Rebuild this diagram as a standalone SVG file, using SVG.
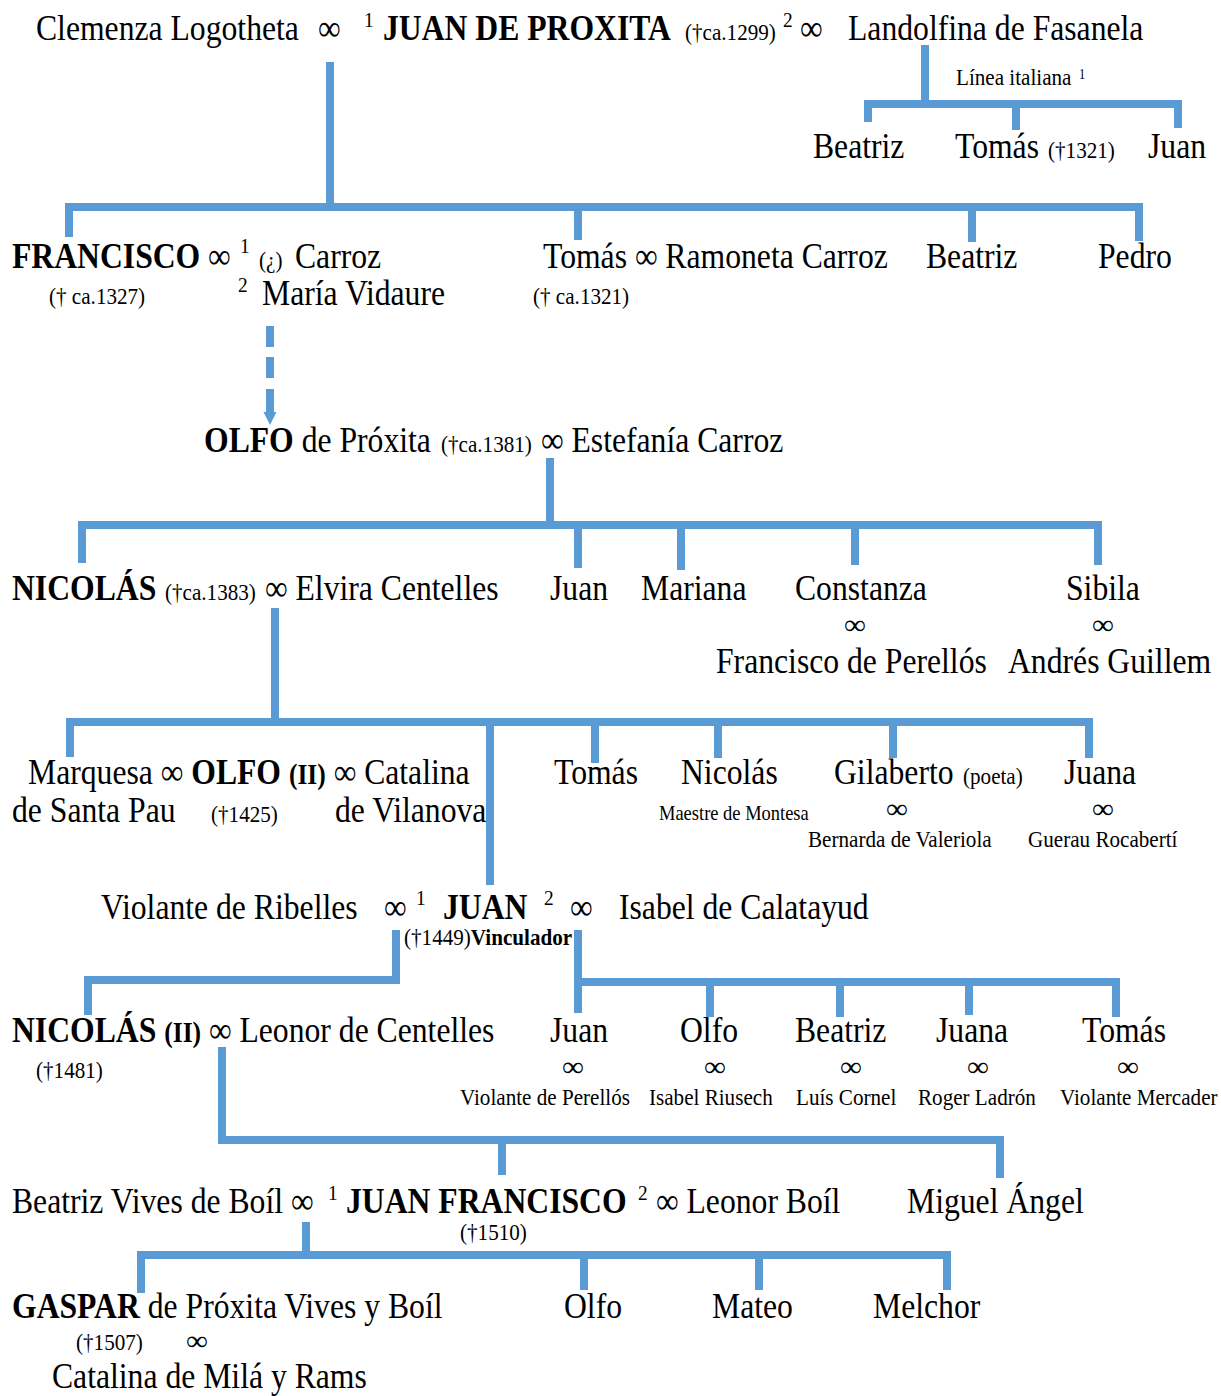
<svg xmlns="http://www.w3.org/2000/svg" width="1221" height="1396" viewBox="0 0 1221 1396">
  <style>
    text { font-family: "Liberation Serif", "Times New Roman", serif; font-size: 36px; fill: #000; }
    .b { font-weight: bold; }
    .s { font-size: 24px; }
    .m { font-size: 21px; }
    .sup { font-size: 22px; }
    .ii { font-size: 29px; font-weight: bold; }
    .inf { font-size: 28px; text-anchor: middle; }
    .link { fill: none; stroke: #5B9BD5; stroke-width: 8; stroke-linejoin: miter; stroke-linecap: butt; }
  </style>
  <defs>
    <marker id="arrow" viewBox="0 0 10 10" refX="0" refY="5" markerWidth="13" markerHeight="22" markerUnits="userSpaceOnUse" orient="auto">
      <path d="M0 0 L10 5 L0 10 z" fill="#5B9BD5"/>
    </marker>
  </defs>

  <!-- family lines -->
  <g id="connectors">
    <path class="link" d="M330 62 V207"/>
    <path class="link" d="M69 237 V207 H1139 V241"/>
    <path class="link" d="M578 207 V240 M972 207 V242"/>
    <path class="link" d="M925 45 V104"/>
    <path class="link" d="M868 122 V104 H1178 V128 M1016 104 V130"/>
    <path class="link" d="M270 326 V347 M270 357 V378"/>
    <path class="link" d="M270 389 V412" marker-end="url(#arrow)"/>
    <path class="link" d="M550 458 V525"/>
    <path class="link" d="M82 563 V525 H1098 V565 M578 525 V568 M681 525 V570 M855 525 V565"/>
    <path class="link" d="M275 608 V722"/>
    <path class="link" d="M70 757 V722 H1089 V758 M490 722 V885 M595 722 V763 M718 722 V758 M893 722 V758"/>
    <path class="link" d="M396 930 V980 H88 V1015"/>
    <path class="link" d="M578 930 V1013 M578 982 H1116 V1017 M710 982 V1017 M840 982 V1017 M969 982 V1015"/>
    <path class="link" d="M222 1047 V1140 H1000 V1178 M502 1140 V1175"/>
    <path class="link" d="M306 1222 V1255"/>
    <path class="link" d="M141 1293 V1255 H947 V1290 M584 1255 V1290 M759 1255 V1290"/>
  </g>

  <!-- generation I -->
  <g id="juan-de-proxita">
    <text transform="translate(36 40) scale(.88 1)">Clemenza Logotheta</text>
    <text transform="translate(318 40) scale(.88 1)">∞</text>
    <text class="sup" transform="translate(364 27) scale(.88 1)">1</text>
    <text class="b" transform="translate(383 40) scale(.88 1)">JUAN DE PROXITA</text>
    <text class="s" transform="translate(685 40) scale(.88 1)">(†ca.1299)</text>
    <text class="sup" transform="translate(783 27) scale(.88 1)">2</text>
    <text transform="translate(800 40) scale(.88 1)">∞</text>
    <text transform="translate(848 40) scale(.88 1)">Landolfina de Fasanela</text>
  </g>
  <g id="linea-italiana">
    <text class="s" transform="translate(956 85) scale(.88 1)">Línea italiana</text>
    <text style="font-size:14px" transform="translate(1079 79) scale(.88 1)">1</text>
  </g>
  <g id="it-beatriz"><text transform="translate(813 158) scale(.88 1)">Beatriz</text></g>
  <g id="it-tomas">
    <text transform="translate(955 158) scale(.88 1)">Tomás</text>
    <text class="s" transform="translate(1048 158) scale(.88 1)">(†1321)</text>
  </g>
  <g id="it-juan"><text transform="translate(1148 158) scale(.88 1)">Juan</text></g>

  <!-- generation II -->
  <g id="francisco">
    <text class="b" transform="translate(12 268) scale(.88 1)">FRANCISCO</text>
    <text transform="translate(208 268) scale(.88 1)">∞</text>
    <text class="sup" transform="translate(240 253) scale(.88 1)">1</text>
    <text class="s" transform="translate(259 268) scale(.88 1)">(¿)</text>
    <text transform="translate(295 268) scale(.88 1)">Carroz</text>
    <text class="s" transform="translate(49 304) scale(.88 1)">(† ca.1327)</text>
    <text class="sup" transform="translate(238 292) scale(.88 1)">2</text>
    <text transform="translate(262 305) scale(.88 1)">María Vidaure</text>
  </g>
  <g id="tomas">
    <text transform="translate(543 268) scale(.88 1)">Tomás ∞ Ramoneta Carroz</text>
    <text class="s" transform="translate(533 304) scale(.88 1)">(† ca.1321)</text>
  </g>
  <g id="beatriz"><text transform="translate(926 268) scale(.88 1)">Beatriz</text></g>
  <g id="pedro"><text transform="translate(1098 268) scale(.88 1)">Pedro</text></g>

  <!-- generation III -->
  <g id="olfo">
    <text transform="translate(204 452) scale(.88 1)"><tspan class="b">OLFO</tspan> de Próxita</text>
    <text class="s" transform="translate(441 452) scale(.88 1)">(†ca.1381)</text>
    <text transform="translate(541 452) scale(.88 1)">∞ Estefanía Carroz</text>
  </g>

  <!-- generation IV -->
  <g id="nicolas">
    <text class="b" transform="translate(12 600) scale(.88 1)">NICOLÁS</text>
    <text class="s" transform="translate(165 600) scale(.88 1)">(†ca.1383)</text>
    <text transform="translate(265 600) scale(.88 1)">∞ Elvira Centelles</text>
  </g>
  <g id="juan-iv"><text transform="translate(550 600) scale(.88 1)">Juan</text></g>
  <g id="mariana"><text transform="translate(641 600) scale(.88 1)">Mariana</text></g>
  <g id="constanza">
    <text transform="translate(795 600) scale(.88 1)">Constanza</text>
    <text class="inf" transform="translate(855 634) scale(1.1 1)">∞</text>
    <text transform="translate(716 673) scale(.88 1)">Francisco de Perellós</text>
  </g>
  <g id="sibila">
    <text transform="translate(1066 600) scale(.88 1)">Sibila</text>
    <text class="inf" transform="translate(1103 634) scale(1.1 1)">∞</text>
    <text transform="translate(1008 673) scale(.88 1)">Andrés Guillem</text>
  </g>

  <!-- generation V -->
  <g id="olfo-ii">
    <text transform="translate(28 784) scale(.88 1)">Marquesa ∞ <tspan class="b">OLFO</tspan> <tspan class="ii">(II)</tspan> ∞ Catalina</text>
    <text transform="translate(12 822) scale(.88 1)">de Santa Pau</text>
    <text class="s" transform="translate(211 822) scale(.88 1)">(†1425)</text>
    <text transform="translate(335 822) scale(.88 1)">de Vilanova</text>
  </g>
  <g id="tomas-v"><text transform="translate(554 784) scale(.88 1)">Tomás</text></g>
  <g id="nicolas-v">
    <text transform="translate(681 784) scale(.88 1)">Nicolás</text>
    <text class="m" transform="translate(659 820) scale(.88 1)">Maestre de Montesa</text>
  </g>
  <g id="gilaberto">
    <text transform="translate(834 784) scale(.88 1)">Gilaberto</text>
    <text class="s" transform="translate(963 784) scale(.88 1)">(poeta)</text>
    <text class="inf" transform="translate(897 818) scale(1.1 1)">∞</text>
    <text class="s" transform="translate(808 847) scale(.88 1)">Bernarda de Valeriola</text>
  </g>
  <g id="juana-v">
    <text transform="translate(1064 784) scale(.88 1)">Juana</text>
    <text class="inf" transform="translate(1103 818) scale(1.1 1)">∞</text>
    <text class="s" transform="translate(1028 847) scale(.88 1)">Guerau Rocabertí</text>
  </g>

  <!-- generation VI -->
  <g id="juan-vinculador">
    <text transform="translate(101 919) scale(.88 1)">Violante de Ribelles</text>
    <text transform="translate(384 919) scale(.88 1)">∞</text>
    <text class="sup" transform="translate(416 905) scale(.88 1)">1</text>
    <text class="b" transform="translate(443 919) scale(.88 1)">JUAN</text>
    <text class="sup" transform="translate(544 905) scale(.88 1)">2</text>
    <text transform="translate(570 919) scale(.88 1)">∞</text>
    <text transform="translate(619 919) scale(.88 1)">Isabel de Calatayud</text>
    <text class="s" transform="translate(404 945) scale(.88 1)">(†1449)<tspan class="b">Vinculador</tspan></text>
  </g>

  <!-- generation VII -->
  <g id="nicolas-ii">
    <text transform="translate(12 1042) scale(.88 1)"><tspan class="b">NICOLÁS</tspan> <tspan class="ii">(II)</tspan> ∞ Leonor de Centelles</text>
    <text class="s" transform="translate(36 1078) scale(.88 1)">(†1481)</text>
  </g>
  <g id="juan-vii">
    <text transform="translate(550 1042) scale(.88 1)">Juan</text>
    <text class="inf" transform="translate(573 1076) scale(1.1 1)">∞</text>
    <text class="s" transform="translate(460 1105) scale(.88 1)">Violante de Perellós</text>
  </g>
  <g id="olfo-vii">
    <text transform="translate(680 1042) scale(.88 1)">Olfo</text>
    <text class="inf" transform="translate(715 1076) scale(1.1 1)">∞</text>
    <text class="s" transform="translate(649 1105) scale(.88 1)">Isabel Riusech</text>
  </g>
  <g id="beatriz-vii">
    <text transform="translate(795 1042) scale(.88 1)">Beatriz</text>
    <text class="inf" transform="translate(851 1076) scale(1.1 1)">∞</text>
    <text class="s" transform="translate(796 1105) scale(.88 1)">Luís Cornel</text>
  </g>
  <g id="juana-vii">
    <text transform="translate(936 1042) scale(.88 1)">Juana</text>
    <text class="inf" transform="translate(978 1076) scale(1.1 1)">∞</text>
    <text class="s" transform="translate(918 1105) scale(.88 1)">Roger Ladrón</text>
  </g>
  <g id="tomas-vii">
    <text transform="translate(1082 1042) scale(.88 1)">Tomás</text>
    <text class="inf" transform="translate(1128 1076) scale(1.1 1)">∞</text>
    <text class="s" transform="translate(1060 1105) scale(.88 1)">Violante Mercader</text>
  </g>

  <!-- generation VIII -->
  <g id="juan-francisco">
    <text transform="translate(12 1213) scale(.88 1)">Beatriz Vives de Boíl ∞</text>
    <text class="sup" transform="translate(328 1200) scale(.88 1)">1</text>
    <text class="b" transform="translate(346 1213) scale(.88 1)">JUAN FRANCISCO</text>
    <text class="sup" transform="translate(638 1200) scale(.88 1)">2</text>
    <text transform="translate(656 1213) scale(.88 1)">∞ Leonor Boíl</text>
    <text class="s" transform="translate(460 1240) scale(.88 1)">(†1510)</text>
  </g>
  <g id="miguel-angel"><text transform="translate(907 1213) scale(.88 1)">Miguel Ángel</text></g>

  <!-- generation IX -->
  <g id="gaspar">
    <text transform="translate(12 1318) scale(.88 1)"><tspan class="b">GASPAR</tspan> de Próxita Vives y Boíl</text>
    <text class="s" transform="translate(76 1350) scale(.88 1)">(†1507)</text>
    <text class="inf" transform="translate(197 1350) scale(1.1 1)">∞</text>
    <text transform="translate(52 1388) scale(.88 1)">Catalina de Milá y Rams</text>
  </g>
  <g id="olfo-ix"><text transform="translate(564 1318) scale(.88 1)">Olfo</text></g>
  <g id="mateo"><text transform="translate(712 1318) scale(.88 1)">Mateo</text></g>
  <g id="melchor"><text transform="translate(873 1318) scale(.88 1)">Melchor</text></g>
</svg>
